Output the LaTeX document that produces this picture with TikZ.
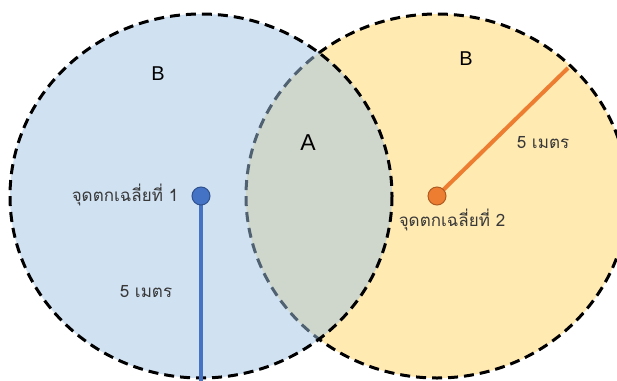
\documentclass[tikz,border=0pt]{standalone}
\usepackage{fontspec}
\setmainfont{Liberation Sans}
\newfontfamily\thaifont[Script=Thai]{Loma}
\definecolor{zoneblue}{RGB}{161,195,229}
\definecolor{zoneyellow}{RGB}{255,234,178}
\definecolor{dotblue}{RGB}{68,114,196}
\definecolor{dotblueedge}{RGB}{47,82,143}
\definecolor{dotorange}{RGB}{237,125,49}
\definecolor{dotorangeedge}{RGB}{174,90,33}
\tikzset{
  zone/.style={draw=black, line width=3pt, dash pattern=on 10pt off 6pt},
  dotnode/.style={circle, minimum size=18pt, inner sep=0pt, line width=1pt},
  radiusline/.style={line width=4pt},
  thlabel/.style={font=\thaifont\fontsize{17}{19}\selectfont, text=black!78, inner sep=0pt},
  zonelabel/.style={font=\fontsize{20}{22}\selectfont, inner sep=0pt},
}
\begin{document}
\begin{tikzpicture}[x=1pt,y=-1pt]
\useasboundingbox (0,0) rectangle (617,380);
\clip (0,0) rectangle (617,380);
% zones
\fill[zoneyellow] (437,196) ellipse [x radius=191, y radius=182];
\draw[zone] (437,196) ellipse [x radius=191, y radius=182];
\fill[zoneblue, fill opacity=0.5] (201,196) ellipse [x radius=191, y radius=182];
\draw[zone] (201,196) ellipse [x radius=191, y radius=182];
% labels
\node[zonelabel] (b1) at (158,74) {B};
\node[zonelabel] (b2) at (466,59) {B};
\node[zonelabel, font=\fontsize{23}{25}\selectfont] (a) at (308,143) {A};
% points and radii
\coordinate (e1) at (201,382);
\coordinate (e2) at (568,68);
\draw[radiusline, dotblue] (201,196) -- (e1);
\draw[radiusline, dotorange] (437,196) -- (e2);
\node[dotnode, fill=dotblue, draw=dotblueedge] (d1) at (201,196) {};
\node[dotnode, fill=dotorange, draw=dotorangeedge] (d2) at (437,196) {};
\node[thlabel] (t1) at (125,195) {จุดตกเฉลี่ยที่ 1};
\node[thlabel] (t2) at (452,220) {จุดตกเฉลี่ยที่ 2};
\node[thlabel] (m1) at (146,292) {5 เมตร};
\node[thlabel] (m2) at (543,143) {5 เมตร};
\end{tikzpicture}
\end{document}
